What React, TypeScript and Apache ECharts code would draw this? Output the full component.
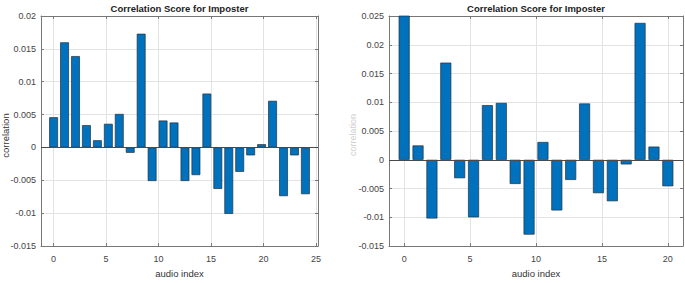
import React, { useEffect, useRef } from "react";
import * as echarts from "echarts";

// ---- data ----
const leftValues = [
  0.0046, 0.016, 0.0139, 0.0034, 0.0011, 0.0036, 0.0051, -0.0008, 0.0173, -0.0051,
  0.0041, 0.0038, -0.0051, -0.0042, 0.0082, -0.0063, -0.0101, -0.0037, -0.0012, 0.0005,
  0.0071, -0.0074, -0.0012, -0.0071,
];
const rightValues = [
  0.0258, 0.0025, -0.0102, 0.0169, -0.0032, -0.01, 0.0095, 0.0099, -0.0042, -0.013,
  0.0031, -0.0088, -0.0035, 0.0098, -0.0058, -0.0072, -0.0008, 0.0238, 0.0023, -0.0046,
];
const leftXTicks = [0, 5, 10, 15, 20, 25];
const rightXTicks = [0, 5, 10, 15, 20];
const titleText = "Correlation Score for Imposter";
const xName = "audio index";
const yName = "correlation";

const FONT = "Liberation Sans, Arial, Helvetica, sans-serif";
const AXIS_COLOR = "#777";
const LABEL_COLOR = "#444";
const GRID_COLOR = "#e3e3e3";
const BAR_COLOR = "#0072BD";

// bars are spread evenly from 0 to n along the index axis
const toPoints = (vals: number[]) =>
  vals.map((v, i) => [(i * vals.length) / (vals.length - 1), v]);

const fmtY = (v: number) => {
  const r = parseFloat(v.toFixed(4));
  return r === 0 ? "0" : String(r);
};

export default function App() {
  const ref = useRef<HTMLDivElement>(null);

  useEffect(() => {
    if (!ref.current) return;
    const chart = echarts.init(ref.current, undefined, { renderer: "svg" });

    const grids = [
      { left: 41, top: 16, width: 277, height: 236 },
      { left: 389, top: 16, width: 294, height: 236 },
    ];
    const xr = [
      { min: -1.2, max: 25.2, ticks: leftXTicks },
      { min: -1.15, max: 21.15, ticks: rightXTicks },
    ];
    const yr = [
      { min: -0.015, max: 0.02 },
      { min: -0.015, max: 0.025 },
    ];

    const xAxis: any[] = [];
    const yAxis: any[] = [];
    [0, 1].forEach((g) => {
      xAxis.push({
        type: "value",
        gridIndex: g,
        min: xr[g].min,
        max: xr[g].max,
        position: "bottom",
        name: xName,
        nameLocation: "middle",
        nameGap: 21,
        nameTextStyle: { fontFamily: FONT, fontSize: 9.5, color: "#333" },
        axisLine: { show: true, onZero: false, lineStyle: { color: AXIS_COLOR, width: 1 } },
        axisTick: {
          show: true,
          inside: true,
          length: 3,
          customValues: xr[g].ticks,
          lineStyle: { color: AXIS_COLOR },
        },
        axisLabel: {
          show: true,
          customValues: xr[g].ticks,
          margin: 8,
          fontFamily: FONT,
          fontSize: 9,
          color: LABEL_COLOR,
        },
        splitLine: { show: true, lineStyle: { color: GRID_COLOR, width: 1 } },
      });
      xAxis.push({
        type: "value",
        gridIndex: g,
        min: xr[g].min,
        max: xr[g].max,
        position: "top",
        axisLine: { show: true, onZero: false, lineStyle: { color: AXIS_COLOR, width: 1 } },
        axisTick: {
          show: true,
          inside: true,
          length: 3,
          customValues: xr[g].ticks,
          lineStyle: { color: AXIS_COLOR },
        },
        axisLabel: { show: false },
        splitLine: { show: false },
      });
      yAxis.push({
        type: "value",
        gridIndex: g,
        min: yr[g].min,
        max: yr[g].max,
        interval: 0.005,
        position: "left",
        axisLine: { show: true, onZero: false, lineStyle: { color: AXIS_COLOR, width: 1 } },
        axisTick: { show: true, inside: true, length: 3, lineStyle: { color: AXIS_COLOR } },
        axisLabel: {
          show: true,
          margin: 5,
          fontFamily: FONT,
          fontSize: 9,
          color: LABEL_COLOR,
          formatter: fmtY,
        },
        splitLine: { show: true, lineStyle: { color: GRID_COLOR, width: 1 } },
      });
      yAxis.push({
        type: "value",
        gridIndex: g,
        min: yr[g].min,
        max: yr[g].max,
        interval: 0.005,
        position: "right",
        axisLine: { show: true, onZero: false, lineStyle: { color: AXIS_COLOR, width: 1 } },
        axisTick: { show: true, inside: true, length: 3, lineStyle: { color: AXIS_COLOR } },
        axisLabel: { show: false },
        splitLine: { show: false },
      });
    });

    const makeSeries = (vals: number[], g: number, barWidth: number) => ({
      type: "bar",
      xAxisIndex: g * 2,
      yAxisIndex: g * 2,
      data: toPoints(vals),
      barWidth,
      clip: true,
      itemStyle: { color: BAR_COLOR, borderColor: "#22303d", borderWidth: 0.7 },
      markLine: {
        silent: true,
        symbol: "none",
        label: { show: false },
        lineStyle: { color: "#4a4a4a", width: 1, type: "solid" },
        data: [{ yAxis: 0 }],
      },
    });

    const centers = grids.map((gr) => gr.left + gr.width / 2);

    chart.setOption({
      animation: false,
      grid: grids,
      xAxis,
      yAxis,
      series: [makeSeries(leftValues, 0, 8.8), makeSeries(rightValues, 1, 11)],
      graphic: [
        ...centers.map((cx) => ({
          type: "text",
          x: cx,
          y: 8,
          style: {
            text: titleText,
            font: `bold 9.5px ${FONT}`,
            fill: "#222",
            align: "center",
            verticalAlign: "middle",
            textAlign: "center",
            textVerticalAlign: "middle",
          },
        })),
        {
          type: "text",
          x: 5,
          y: 135.5,
          rotation: Math.PI / 2,
          style: {
            text: yName,
            font: `9.5px ${FONT}`,
            fill: "#333",
            align: "center",
            verticalAlign: "middle",
            textAlign: "center",
            textVerticalAlign: "middle",
          },
        },
        {
          type: "text",
          x: 353,
          y: 135,
          rotation: Math.PI / 2,
          style: {
            text: yName,
            font: `9px ${FONT}`,
            fill: "#cfcfcf",
            align: "center",
            verticalAlign: "middle",
            textAlign: "center",
            textVerticalAlign: "middle",
          },
        },
      ],
    });

    return () => chart.dispose();
  }, []);

  return (
    <div
      ref={ref}
      style={{ position: "absolute", left: 0, top: 0, width: 685, height: 283, background: "#fff" }}
    />
  );
}
